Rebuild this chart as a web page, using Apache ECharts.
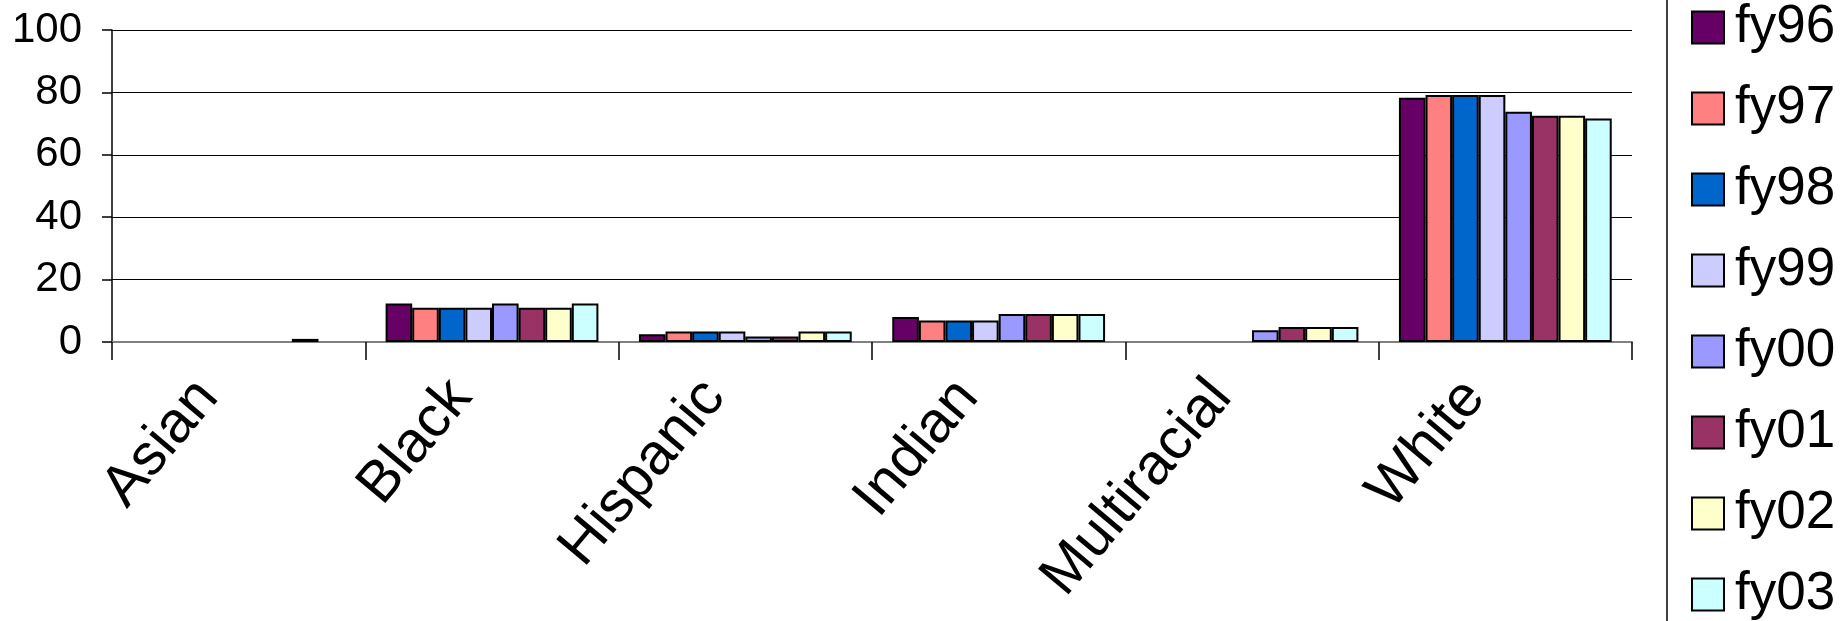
<!DOCTYPE html>
<html>
<head>
<meta charset="utf-8">
<script src="https://cdn.jsdelivr.net/npm/echarts@6/dist/echarts.min.js"></script>
<style>html,body{margin:0;padding:0;background:#fff}#c{width:1848px;height:621px}</style>
</head>
<body>
<div id="c"></div>
<script>
const categories = ['Asian', 'Black', 'Hispanic', 'Indian', 'Multiracial', 'White'];
const seriesNames = ['fy96', 'fy97', 'fy98', 'fy99', 'fy00', 'fy01', 'fy02', 'fy03'];
const colors = ['#660066', '#FF8080', '#0066CC', '#CCCCFF', '#9999FF', '#993366', '#FFFFCC', '#CCFFFF'];
const fy96 = [null, 12.3, 2.5, 8.0, null, 78.3];
const fy97 = [null, 11.0, 3.4, 6.9, null, 79.2];
const fy98 = [null, 11.0, 3.4, 6.9, null, 79.2];
const fy99 = [null, 11.0, 3.4, 6.9, null, 79.2];
const fy00 = [null, 12.3, 1.8, 9.0, 3.8, 73.8];
const fy01 = [null, 11.0, 1.8, 9.0, 4.8, 72.5];
const fy02 = [1.0, 11.0, 3.4, 9.0, 4.8, 72.5];
const fy03 = [null, 12.3, 3.4, 9.0, 4.8, 71.6];
const yTicks = [0, 20, 40, 60, 80, 100];
const values = [fy96, fy97, fy98, fy99, fy00, fy01, fy02, fy03];

const font = 'Liberation Sans, Arial, sans-serif';
const chart = echarts.init(document.getElementById('c'));
chart.setOption({
  animation: false,
  backgroundColor: '#fff',
  grid: { left: 112, right: 216, top: 30, bottom: 279 },
  legend: {
    orient: 'vertical',
    left: 1686,
    top: -4,
    height: 800,
    itemWidth: 32,
    itemHeight: 32,
    itemGap: 28,
    data: seriesNames.map(n => ({ name: n, icon: 'rect' })),
    textStyle: { fontFamily: font, fontSize: 53, color: '#000', padding: [0, 0, 0, 6] }
  },
  graphic: [{
    type: 'line', shape: { x1: 1667, y1: 0, x2: 1667, y2: 621 },
    style: { stroke: '#000', lineWidth: 1.5 }
  }],
  xAxis: {
    type: 'category',
    data: categories,
    axisLine: { lineStyle: { color: '#808080', width: 2 } },
    axisTick: { show: true, length: 18, alignWithLabel: false, lineStyle: { color: '#000', width: 1.5 } },
    axisLabel: { rotate: 50, fontFamily: font, fontSize: 58, color: '#000', margin: 9, interval: 0,
      padding: [0, 48, 0, 0] }
  },
  yAxis: {
    type: 'value',
    min: 0, max: 100, interval: 20,
    axisLine: { show: true, lineStyle: { color: '#000', width: 1.5 } },
    axisTick: { show: true, length: 10, lineStyle: { color: '#000', width: 1.5 } },
    axisLabel: { fontFamily: font, fontSize: 42, color: '#000', margin: 30,
      formatter: v => yTicks.includes(v) ? String(v) : '' },
    splitLine: { show: true, lineStyle: { color: '#000', width: 1 } }
  },
  series: seriesNames.map((n, i) => ({
    name: n,
    type: 'bar',
    data: values[i],
    barGap: '0%',
    barCategoryGap: '16%',
    itemStyle: { color: colors[i], borderColor: '#000', borderWidth: 2 }
  }))
});
</script>
</body>
</html>
